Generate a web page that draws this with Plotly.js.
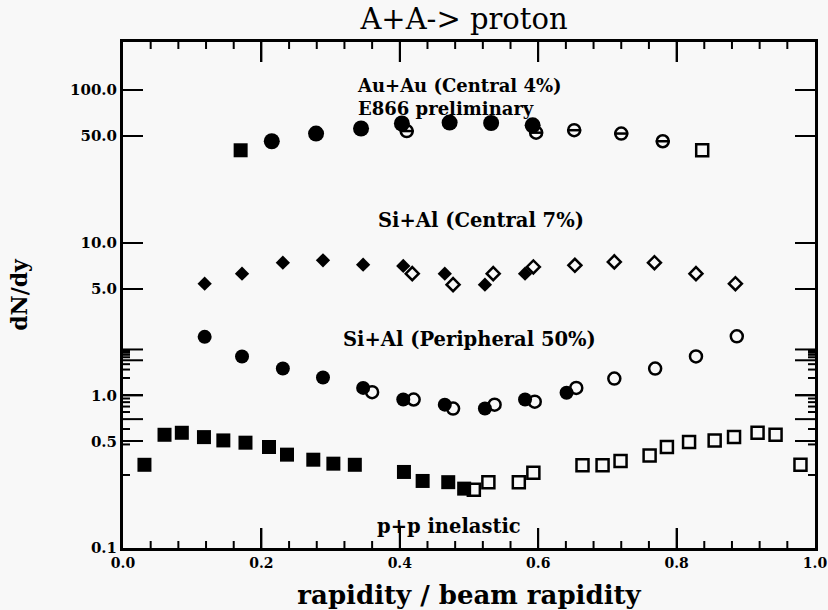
<!DOCTYPE html>
<html>
<head>
<meta charset="utf-8">
<script src="https://cdn.plot.ly/plotly-3.0.1.min.js"></script>
<style>
  html, body { margin: 0; padding: 0; background: #f8f8f8; }
  #chart { width: 828px; height: 610px; }
</style>
</head>
<body>
<div id="chart"></div>
<script>
// ---- Au+Au (Central 4%), E866 preliminary ----
const auSqFilledX = [0.170];
const auSqFilledY = [40.4];
const auFilledX = [0.215, 0.279, 0.344, 0.403, 0.472, 0.532, 0.592];
const auFilledY = [46.3, 52.0, 56.1, 60.5, 61.4, 61.0, 58.9];
const auOpenX = [0.410, 0.597, 0.652, 0.720, 0.780];
const auOpenY = [54.0, 52.7, 54.7, 52.0, 46.3];
const auSqOpenX = [0.837];
const auSqOpenY = [40.4];

// ---- Si+Al (Central 7%) ----
const siCFilledX = [0.118, 0.172, 0.231, 0.289, 0.347, 0.405, 0.465, 0.523, 0.581];
const siCFilledY = [5.40, 6.28, 7.41, 7.68, 7.19, 7.06, 6.28, 5.32, 6.28];
const siCOpenX = [0.418, 0.477, 0.535, 0.593, 0.653, 0.710, 0.768, 0.828, 0.885];
const siCOpenY = [6.28, 5.32, 6.28, 6.95, 7.12, 7.50, 7.41, 6.28, 5.40];

// ---- Si+Al (Peripheral 50%) ----
const siPFilledX = [0.118, 0.172, 0.231, 0.289, 0.347, 0.405, 0.465, 0.523, 0.581, 0.641];
const siPFilledY = [2.42, 1.80, 1.50, 1.31, 1.12, 0.94, 0.87, 0.82, 0.94, 1.04];
const siPOpenX = [0.360, 0.420, 0.477, 0.537, 0.595, 0.655, 0.710, 0.769, 0.828, 0.887];
const siPOpenY = [1.05, 0.94, 0.82, 0.87, 0.91, 1.12, 1.29, 1.50, 1.80, 2.44];

// ---- p+p inelastic ----
const ppFilledX = [0.031, 0.060, 0.085, 0.117, 0.145, 0.177, 0.211, 0.237, 0.275, 0.304, 0.335, 0.406, 0.433, 0.470, 0.493];
const ppFilledY = [0.351, 0.552, 0.569, 0.533, 0.507, 0.490, 0.459, 0.409, 0.379, 0.357, 0.351, 0.315, 0.275, 0.270, 0.245];
const ppOpenX = [0.507, 0.528, 0.572, 0.593, 0.664, 0.693, 0.719, 0.761, 0.786, 0.818, 0.855, 0.883, 0.917, 0.943, 0.979];
const ppOpenY = [0.241, 0.270, 0.270, 0.311, 0.348, 0.348, 0.371, 0.404, 0.459, 0.495, 0.507, 0.533, 0.569, 0.552, 0.351];

// ---- axis ticks ----
const xTickVals = [0, 0.2, 0.4, 0.6, 0.8, 1.0];
const xTickText = ["0.0", "0.2", "0.4", "0.6", "0.8", "1.0"];
const xMinorVals = [0.04, 0.08, 0.12, 0.16, 0.24, 0.28, 0.32, 0.36, 0.44, 0.48, 0.52, 0.56, 0.64, 0.68, 0.72, 0.76, 0.84, 0.88, 0.92, 0.96];
const yTickVals = [0.1, 0.5, 1, 5, 10, 50, 100];
const yTickText = ["0.1", "0.5", "1.0", "5.0", "10.0", "50.0", "100.0"];
const yMinorVals = [0.2, 0.3, 0.4, 0.6, 0.7, 0.8, 0.9, 2, 3, 4, 6, 7, 8, 9, 20, 30, 40, 60, 70, 80, 90];

const BLACK = '#000000';
const SERIF = 'DejaVu Serif, Liberation Serif, serif';

function filled(x, y, symbol, size, name) {
  return { type: 'scatter', mode: 'markers', x: x, y: y, name: name,
    marker: { symbol: symbol, size: size, color: BLACK, line: { width: 0 } } };
}
function open(x, y, symbol, size, name) {
  return { type: 'scatter', mode: 'markers', x: x, y: y, name: name,
    marker: { symbol: symbol, size: size, color: BLACK, line: { width: 2.5, color: BLACK } } };
}

const traces = [
  open(auOpenX, auOpenY, 'circle-open', 12, 'Au+Au reflected'),
  open(auOpenX, auOpenY, 'line-ew-open', 10, 'Au+Au reflected bar'),
  filled(auSqFilledX, auSqFilledY, 'square', 14, 'Au+Au square'),
  filled(auFilledX, auFilledY, 'circle', 16, 'Au+Au'),
  open(auSqOpenX, auSqOpenY, 'square-open', 12, 'Au+Au square reflected'),
  open(siCOpenX, siCOpenY, 'diamond-open', 10, 'Si+Al central reflected'),
  filled(siCFilledX, siCFilledY, 'diamond', 11, 'Si+Al central'),
  open(siPOpenX, siPOpenY, 'circle-open', 12, 'Si+Al peripheral reflected'),
  filled(siPFilledX, siPFilledY, 'circle', 14, 'Si+Al peripheral'),
  open(ppOpenX, ppOpenY, 'square-open', 12, 'p+p reflected'),
  filled(ppFilledX, ppFilledY, 'square', 14, 'p+p')
];

function px2x(px) { return (px - 123) / 692; }
function px2y(py) { return (548 - py) / 506; }
const annotations = [
  { text: 'Au+Au (Central 4%)<br>E866 preliminary', x: px2x(355), y: px2y(97), size: 18 },
  { text: 'Si+Al (Central 7%)', x: px2x(376), y: px2y(221), size: 19.5 },
  { text: 'Si+Al (Peripheral 50%)', x: px2x(341), y: px2y(340), size: 19.5 },
  { text: 'p+p inelastic', x: px2x(375), y: px2y(526), size: 19.5 }
].map(a => ({ xref: 'paper', yref: 'paper', xanchor: 'left', yanchor: 'middle', align: 'left',
  showarrow: false, text: a.text, x: a.x, y: a.y,
  font: { family: SERIF, size: a.size, color: BLACK, weight: 'bold' } }));

// Inside tick marks on all four frame sides, placed through the axes' own scales
const MAJ_X = 20 / 506, MIN_X = 7 / 506, MAJ_Y = 20 / 692, MIN_Y = 7 / 692;
const tickLine = { color: BLACK, width: 2 };
const shapes = [];
function xTick(v, len) {
  shapes.push({ type: 'line', xref: 'x', yref: 'paper', x0: v, x1: v, y0: 0, y1: len, line: tickLine });
  shapes.push({ type: 'line', xref: 'x', yref: 'paper', x0: v, x1: v, y0: 1, y1: 1 - len, line: tickLine });
}
function yTick(v, len) {
  const lv = Math.log10(v);
  shapes.push({ type: 'line', xref: 'paper', yref: 'y', x0: 0, x1: len, y0: lv, y1: lv, line: tickLine });
  shapes.push({ type: 'line', xref: 'paper', yref: 'y', x0: 1, x1: 1 - len, y0: lv, y1: lv, line: tickLine });
}
xTickVals.slice(1, -1).forEach(v => xTick(v, MAJ_X));
xMinorVals.forEach(v => xTick(v, MIN_X));
yTickVals.slice(1).forEach(v => yTick(v, MAJ_Y));
yMinorVals.forEach(v => yTick(v, MIN_Y));

const layout = {
  width: 828, height: 610,
  paper_bgcolor: '#f8f8f8', plot_bgcolor: '#f8f8f8',
  margin: { l: 123, r: 13, t: 42, b: 62 },
  showlegend: false,
  title: { text: 'A+A-> proton', x: px2x(464), xref: 'paper', xanchor: 'center',
    y: 1 - 19 / 610, yanchor: 'middle', yref: 'container',
    font: { family: SERIF, size: 29, color: BLACK } },
  xaxis: {
    range: [0, 1], tickvals: xTickVals, ticktext: xTickText,
    ticks: 'inside', ticklen: 20, tickwidth: 2, tickcolor: BLACK,
    showline: true, linewidth: 3, linecolor: BLACK, mirror: 'allticks',
    showgrid: false, zeroline: false, ticklabeloverflow: 'allow',
    tickfont: { family: SERIF, size: 14, color: BLACK, weight: 'bold' },
    title: { text: 'rapidity / beam rapidity', standoff: 18,
      font: { family: SERIF, size: 26, color: BLACK, weight: 'bold' } }
  },
  yaxis: {
    type: 'log', range: [-1, Math.log10(207)],
    tickvals: yTickVals, ticktext: yTickText,
    ticks: 'inside', ticklen: 20, tickwidth: 2, tickcolor: BLACK,
    showline: true, linewidth: 3, linecolor: BLACK, mirror: 'allticks',
    showgrid: false, zeroline: false,
    tickfont: { family: SERIF, size: 15, color: BLACK, weight: 'bold' },
    title: { text: 'dN/dy', standoff: 37,
      font: { family: SERIF, size: 22, color: BLACK, weight: 'bold' } }
  },
  shapes: shapes,
  annotations: annotations
};

Plotly.newPlot('chart', traces, layout, { displayModeBar: false });
</script>
</body>
</html>
